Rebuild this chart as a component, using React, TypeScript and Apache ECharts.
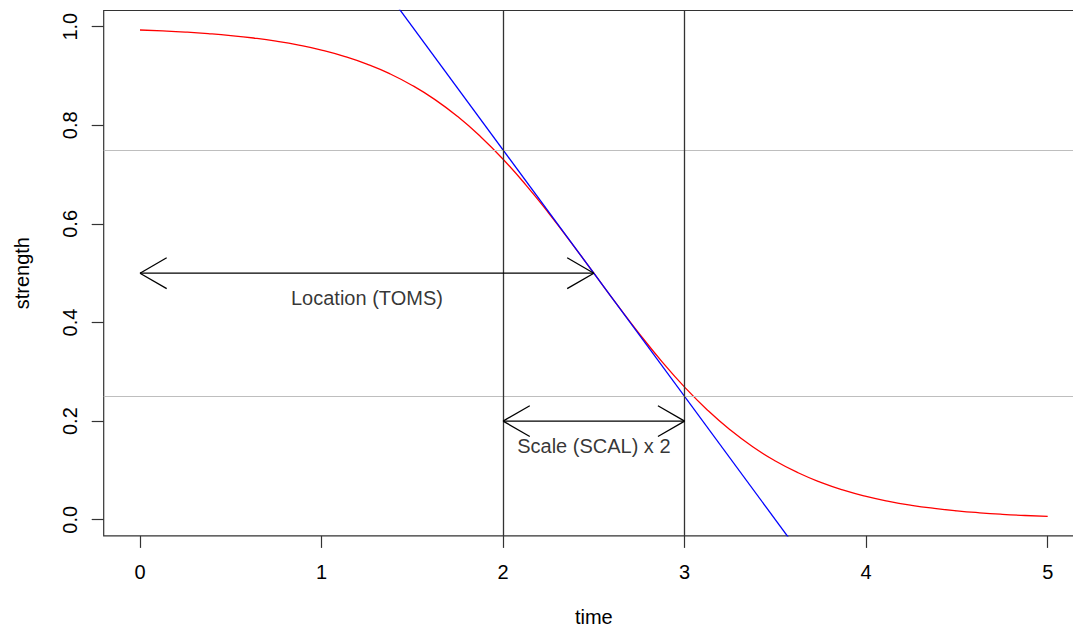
import React, { useEffect, useRef } from "react";
import * as echarts from "echarts";

// time values and the logistic strength curve
const TIME = [
  0, 0.125, 0.25, 0.375, 0.5, 0.625, 0.75, 0.875, 1, 1.125, 1.25, 1.375, 1.5, 1.625, 1.75, 1.875,
  2, 2.125, 2.25, 2.375, 2.5, 2.625, 2.75, 2.875, 3, 3.125, 3.25, 3.375, 3.5, 3.625, 3.75, 3.875,
  4, 4.125, 4.25, 4.375, 4.5, 4.625, 4.75, 4.875, 5,
];
const STRENGTH = [
  0.9933, 0.9914, 0.989, 0.9859, 0.982, 0.977, 0.9707, 0.9627, 0.9526, 0.9399, 0.9241, 0.9047, 0.8808, 0.852, 0.8176, 0.7773,
  0.7311, 0.6792, 0.6225, 0.5622, 0.5, 0.4378, 0.3775, 0.3208, 0.2689, 0.2227, 0.1824, 0.148, 0.1192, 0.0953, 0.0759, 0.0601,
  0.0474, 0.0373, 0.0293, 0.023, 0.018, 0.0141, 0.011, 0.0086, 0.0067,
];

// tangent line (abline a, b)
const TANGENT_INTERCEPT = 1.75;
const TANGENT_SLOPE = -0.5;

// reference lines
const V_LINES = [2, 3];
const H_LINES = [0.75, 0.25];

// double-headed arrows [x0, y0, x1, y1]
const ARROWS = [
  [0, 0.5, 2.5, 0.5],
  [2, 0.2, 3, 0.2],
];

// annotation texts
const LABEL_X = [1.25, 2.5];
const LABEL_Y = [0.45, 0.15];
const LABEL_TEXT = ["Location (TOMS)", "Scale (SCAL) x 2"];

// axes
const X_MIN = -0.2;
const X_MAX = 5.2;
const Y_MIN = -0.0328;
const Y_MAX = 1.0328;
const X_TICKS = [0, 1, 2, 3, 4, 5];
const Y_TICKS = [0, 0.2, 0.4, 0.6, 0.8, 1.0];

const FONT = "'Liberation Sans', Arial, Helvetica, sans-serif";

export default function App() {
  const ref = useRef<HTMLDivElement>(null);

  useEffect(() => {
    if (!ref.current) return;
    const chart = echarts.init(ref.current, null, { renderer: "svg" });

    const curve = TIME.map((t, i) => [t, STRENGTH[i]]);
    const tangent = [X_MIN, X_MAX].map((x) => [x, TANGENT_INTERCEPT + TANGENT_SLOPE * x]);
    const labels = LABEL_TEXT.map((name, i) => ({ name, value: [LABEL_X[i], LABEL_Y[i]] }));
    const headLen = 30.8;
    const headAng = Math.PI / 6;

    chart.setOption({
      animation: false,
      backgroundColor: "#ffffff",
      grid: {
        left: 103.7,
        right: 16,
        top: 10.5,
        bottom: 92.1,
        show: true,
        borderColor: "#333",
        borderWidth: 1.2,
        backgroundColor: "transparent",
        containLabel: false,
        outerBoundsMode: "none",
      },
      xAxis: {
        type: "value",
        min: X_MIN,
        max: X_MAX,
        name: "time",
        nameLocation: "middle",
        nameGap: 71,
        nameTextStyle: { fontFamily: FONT, fontSize: 20, color: "#000" },
        axisLine: { show: false, onZero: false },
        splitLine: { show: false },
        axisTick: {
          show: true,
          inside: false,
          customValues: X_TICKS,
          length: 12,
          lineStyle: { color: "#333", width: 1.2 },
        },
        axisLabel: {
          show: true,
          customValues: X_TICKS,
          margin: 26,
          fontFamily: FONT,
          fontSize: 20,
          color: "#000",
          formatter: (v: number) => String(v),
        },
      },
      yAxis: {
        type: "value",
        min: Y_MIN,
        max: Y_MAX,
        name: "strength",
        nameLocation: "middle",
        nameGap: 72,
        nameTextStyle: { fontFamily: FONT, fontSize: 20, color: "#000" },
        axisLine: { show: false, onZero: false },
        splitLine: { show: false },
        axisTick: {
          show: true,
          inside: false,
          customValues: Y_TICKS,
          length: 12,
          lineStyle: { color: "#333", width: 1.2 },
        },
        axisLabel: {
          show: true,
          customValues: Y_TICKS,
          rotate: 90,
          margin: 24,
          fontFamily: FONT,
          fontSize: 20,
          color: "#000",
          formatter: (v: number) => v.toFixed(1),
        },
      },
      series: [
        {
          type: "line",
          data: curve,
          smooth: true,
          symbol: "none",
          lineStyle: { color: "#ff0000", width: 1.3 },
          z: 3,
          markLine: {
            silent: true,
            symbol: ["none", "none"],
            label: { show: false },
            animation: false,
            data: [
              ...H_LINES.map((y) => ({ yAxis: y, lineStyle: { color: "#bebebe", width: 1.2, type: "solid" } })),
              ...V_LINES.map((x) => ({ xAxis: x, lineStyle: { color: "#333", width: 1.3, type: "solid" } })),
            ],
          },
        },
        {
          type: "line",
          data: tangent,
          symbol: "none",
          clip: true,
          lineStyle: { color: "#0000ff", width: 1.3 },
          z: 4,
        },
        {
          type: "custom",
          data: ARROWS,
          encode: { x: [0, 2], y: [1, 3] },
          z: 5,
          renderItem: (params: any, api: any) => {
            const p0 = api.coord([api.value(0), api.value(1)]);
            const p1 = api.coord([api.value(2), api.value(3)]);
            const th = Math.atan2(p1[1] - p0[1], p1[0] - p0[0]);
            const style = { stroke: "#000", lineWidth: 1.3 };
            const head = (tip: number[], dir: number) => {
              const back = th + (dir > 0 ? Math.PI : 0);
              return [-1, 1].map((s) => ({
                type: "line",
                shape: {
                  x1: tip[0],
                  y1: tip[1],
                  x2: tip[0] + headLen * Math.cos(back + s * headAng),
                  y2: tip[1] + headLen * Math.sin(back + s * headAng),
                },
                style,
              }));
            };
            return {
              type: "group",
              children: [
                { type: "line", shape: { x1: p0[0], y1: p0[1], x2: p1[0], y2: p1[1] }, style },
                ...head(p1, 1),
                ...head(p0, -1),
              ],
            };
          },
        },
        {
          type: "scatter",
          data: labels,
          symbolSize: 1,
          itemStyle: { color: "rgba(0,0,0,0)" },
          z: 6,
          label: {
            show: true,
            position: "inside",
            formatter: (p: any) => p.name,
            fontFamily: FONT,
            fontSize: 20,
            color: "#000",
          },
        },
      ],
    });

    return () => chart.dispose();
  }, []);

  return (
    <div style={{ position: "absolute", left: 0, top: 0, width: 1073, height: 628, overflow: "hidden", background: "#fff" }}>
      <div ref={ref} style={{ width: 1100, height: 628 }} />
    </div>
  );
}
